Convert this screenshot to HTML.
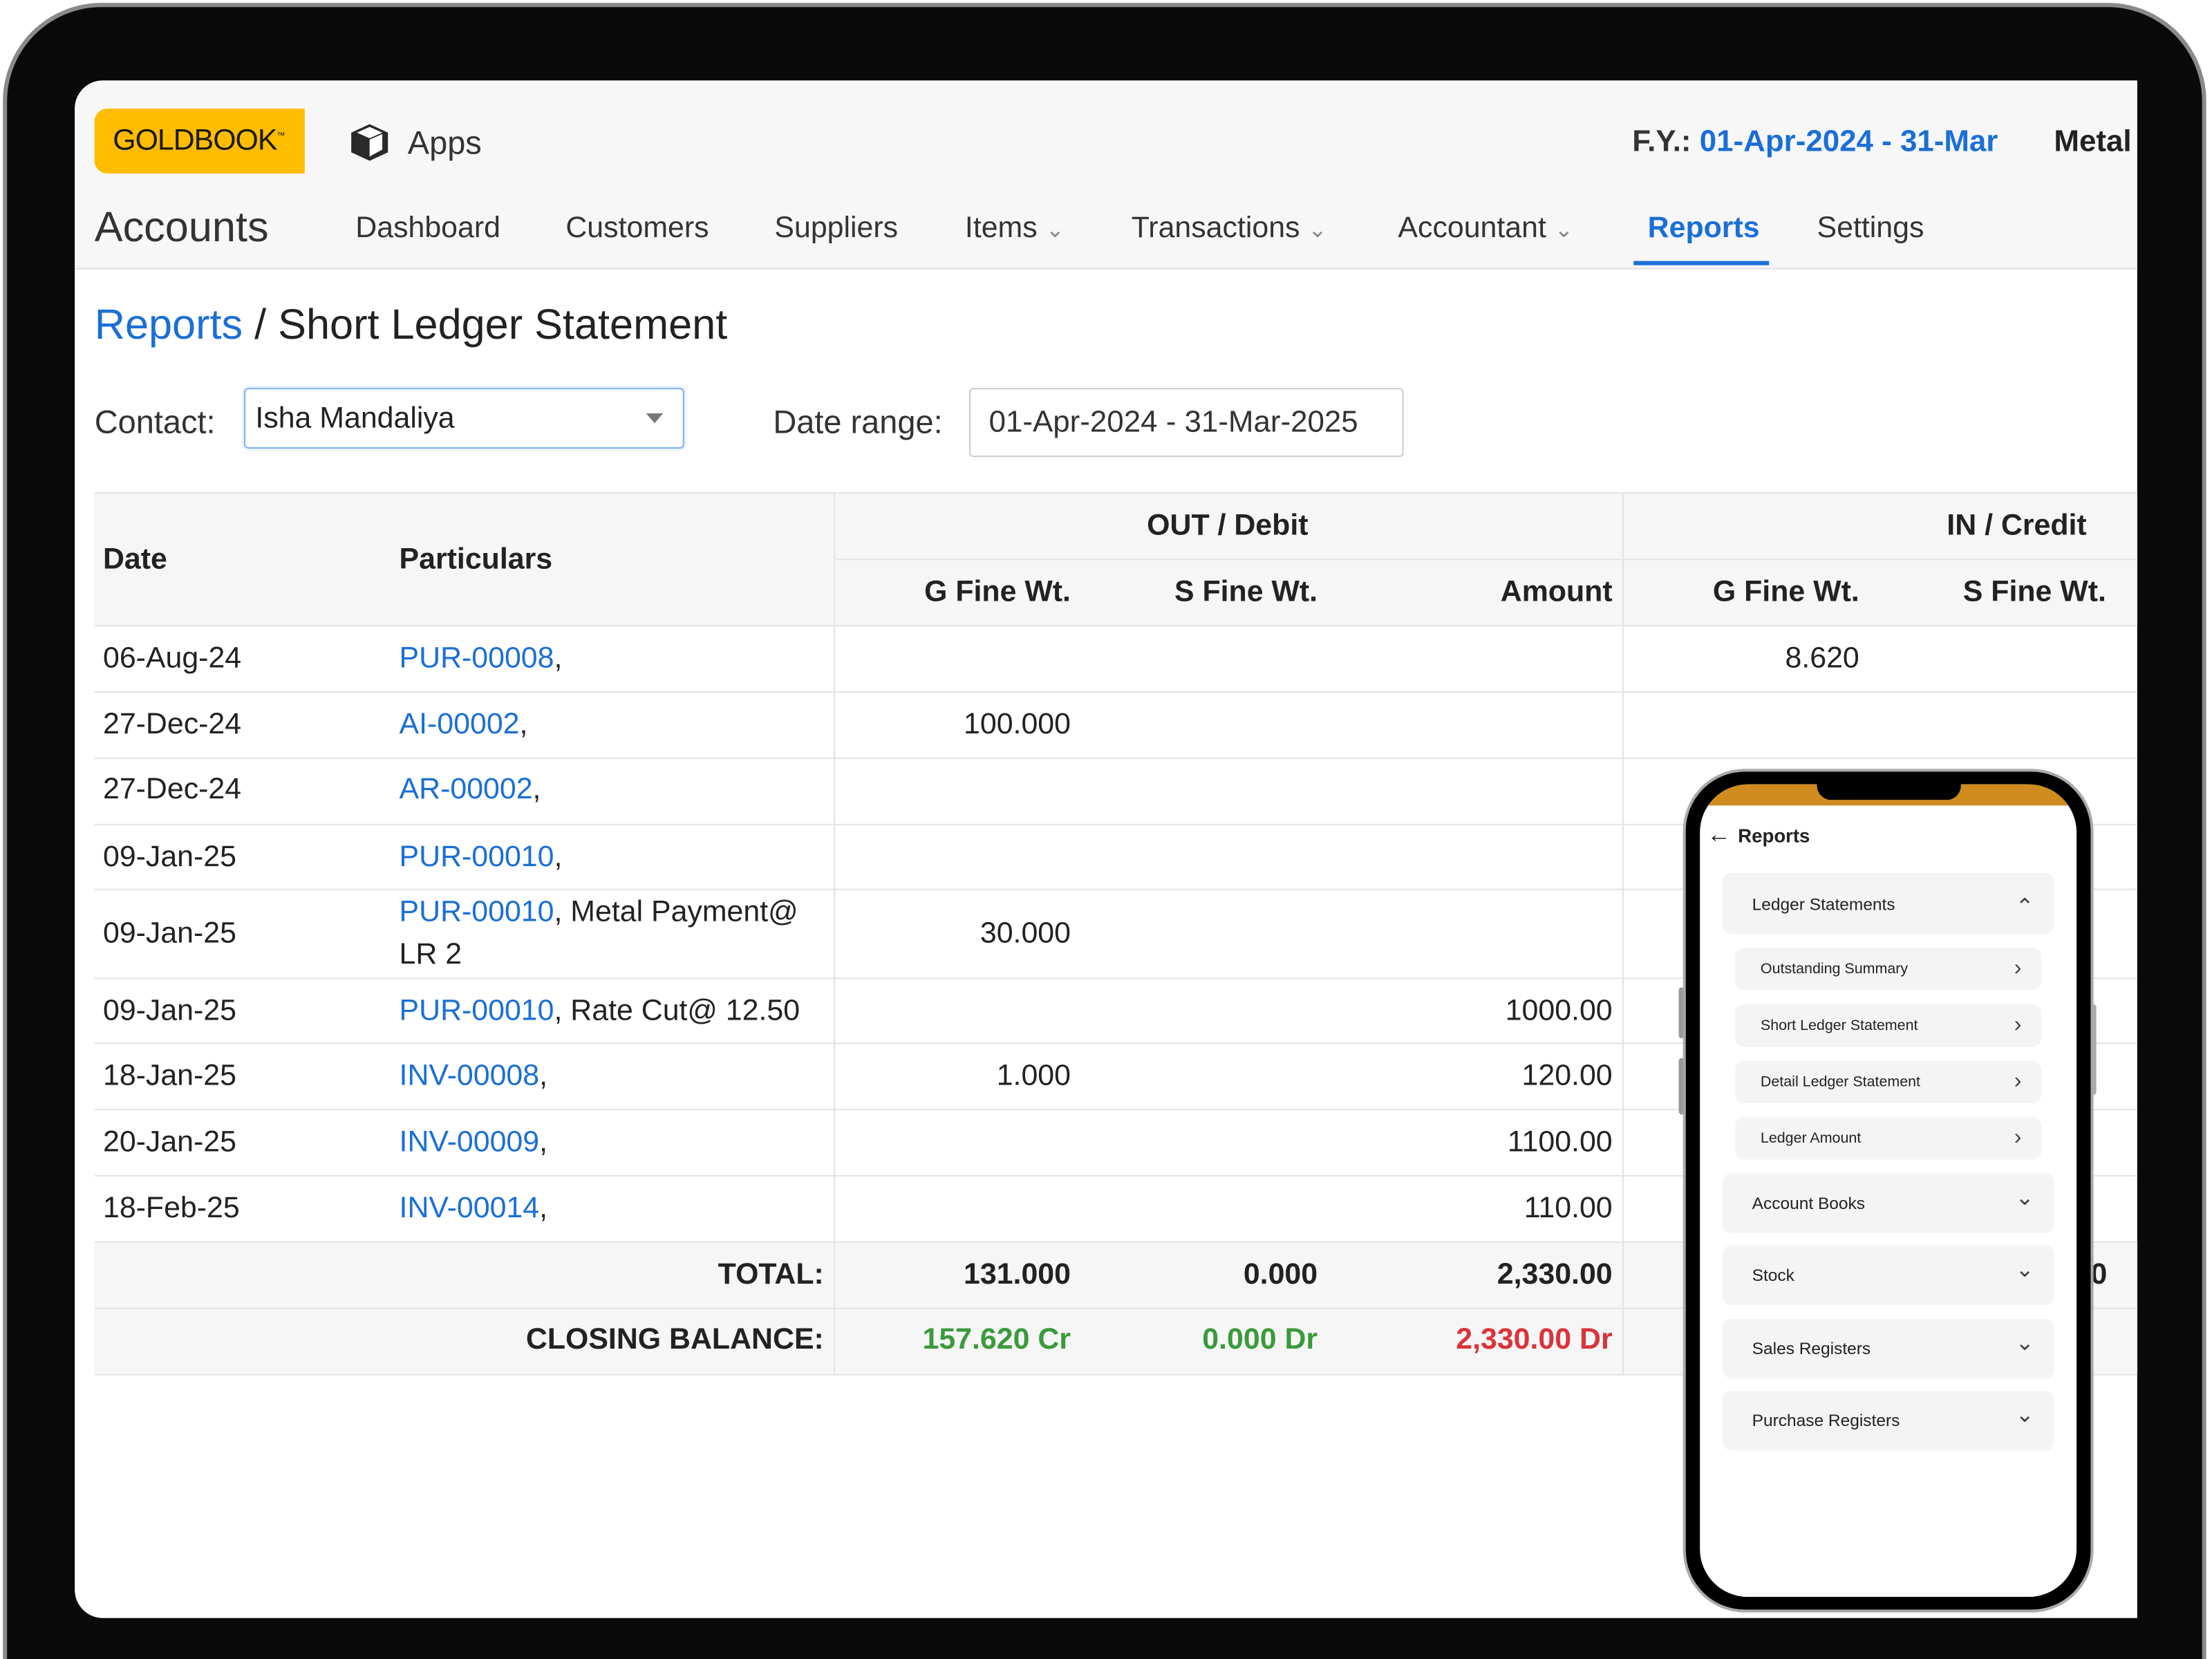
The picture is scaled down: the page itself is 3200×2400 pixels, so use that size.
<!DOCTYPE html>
<html><head><meta charset="utf-8">
<style>
html,body{margin:0;padding:0;background:#fff;}
body{width:3200px;height:2400px;overflow:hidden;position:relative;}
#w{position:absolute;left:0;top:0;width:1568px;height:1176px;overflow:hidden;transform:scale(2.0408);transform-origin:0 0;font-family:"Liberation Sans",sans-serif;color:#222;}
.a{position:absolute;white-space:nowrap;}
.frame{position:absolute;left:2px;top:2px;width:1562px;height:1174px;border-radius:70px 70px 0 0;background:#0a0a0a;border:3px solid #8a8a8a;border-bottom:none;box-sizing:border-box;}
.screen{position:absolute;left:53px;top:57px;width:1462px;height:1090px;background:#fff;border-radius:20px 0 0 20px;overflow:hidden;}
.blue{color:#1a6fd6;}
.nav{font-size:21px;color:#333;top:150px;}
.hl{position:absolute;height:1px;background:#e3e3e8;}
.vl{position:absolute;width:1px;background:#e3e3e8;}
.td{position:absolute;font-size:21px;color:#222;white-space:nowrap;}
.r{text-align:right;}
.b{font-weight:bold;}
.card{position:absolute;background:#f4f4f4;border-radius:6px;font-size:12px;color:#222;}
.card span{position:absolute;top:50%;transform:translateY(-50%);}
.chev{font-size:16px;color:#444;}
</style></head><body><div id="w">
<div class="frame"></div>
<div class="screen">
  <div style="position:absolute;left:0;top:0;width:1462px;height:133px;background:#f7f7f8;border-bottom:1px solid #e2e2e6;"></div>
</div>
<div class="a" style="left:67px;top:77px;width:149px;height:46px;background:#ffbc00;border-radius:9px 0 0 9px;"></div>
<div class="a" style="left:80px;top:88px;font-size:21px;color:#1a1a1a;letter-spacing:-0.5px;">GOLDBOOK<sup style="font-size:6px">™</sup></div>
<svg class="a" style="left:247px;top:86px" width="30" height="30" viewBox="0 0 30 30"><path d="M15 2 L28 8 L28 22 L15 28 L2 22 L2 8 Z" fill="#2a2a2a"/><path d="M15 13 L15 25 L24 20 L24 9 Z" fill="#fff"/><path d="M6 8 L15 4 L24 8 L15 12 Z" fill="#fff"/></svg>
<div class="a" style="left:289px;top:88px;font-size:23px;color:#333;">Apps</div>
<div class="a" style="left:1157px;top:88px;font-size:21.5px;color:#333;font-weight:bold;width:265px;overflow:hidden;">F.Y.: <span class="blue">01-Apr-2024 - 31-Mar</span></div>
<div class="a" style="left:1456px;top:88px;font-size:21.5px;font-weight:bold;width:59px;overflow:hidden;">Metal</div>
<div class="a" style="left:67px;top:145px;font-size:30px;color:#333;">Accounts</div>
<div class="a nav" style="left:252px">Dashboard</div>
<div class="a nav" style="left:401px">Customers</div>
<div class="a nav" style="left:549px">Suppliers</div>
<div class="a nav" style="left:684px">Items <span style="font-size:16px;color:#888">&#8964;</span></div>
<div class="a nav" style="left:802px">Transactions <span style="font-size:16px;color:#888">&#8964;</span></div>
<div class="a nav" style="left:991px">Accountant <span style="font-size:16px;color:#888">&#8964;</span></div>
<div class="a nav blue" style="left:1168px;font-weight:bold;color:#1a6fd6">Reports</div>
<div class="a" style="left:1158px;top:185px;width:96px;height:3px;background:#1a6fd6"></div>
<div class="a nav" style="left:1288px">Settings</div>
<div class="a" style="left:67px;top:214px;font-size:30px;"><span class="blue">Reports</span> / Short Ledger Statement</div>
<div class="a" style="left:67px;top:286px;font-size:23px;color:#333;">Contact:</div>
<div class="a" style="left:173px;top:275px;width:312px;height:43px;border:1.5px solid #7fb0ef;border-radius:3px;box-sizing:border-box;box-shadow:0 0 3px #bcd6f8;"></div>
<div class="a" style="left:181px;top:285px;font-size:21px;">Isha Mandaliya</div>
<div class="a" style="left:458px;top:293px;width:0;height:0;border-left:6px solid transparent;border-right:6px solid transparent;border-top:7px solid #777;"></div>
<div class="a" style="left:548px;top:286px;font-size:23px;color:#333;">Date range:</div>
<div class="a" style="left:687px;top:275px;width:308px;height:49px;border:1px solid #ccc;border-radius:3px;box-sizing:border-box;"></div>
<div class="a" style="left:701px;top:287px;font-size:21.5px;color:#333;">01-Apr-2024 - 31-Mar-2025</div>

<div class="a" style="left:67px;top:349px;width:1448px;height:94px;background:#f6f6f7;"></div>
<div class="a" style="left:67px;top:880px;width:1448px;height:94px;background:#f6f6f7;"></div>
<div class="hl" style="left:67px;top:349px;width:1448px"></div>
<div class="hl" style="left:591px;top:396px;width:924px"></div>
<div class="hl" style="left:67px;top:443px;width:1448px"></div>
<div class="hl" style="left:67px;top:490px;width:1448px"></div>
<div class="hl" style="left:67px;top:537px;width:1448px"></div>
<div class="hl" style="left:67px;top:584px;width:1448px"></div>
<div class="hl" style="left:67px;top:630px;width:1448px"></div>
<div class="hl" style="left:67px;top:693px;width:1448px"></div>
<div class="hl" style="left:67px;top:739px;width:1448px"></div>
<div class="hl" style="left:67px;top:786px;width:1448px"></div>
<div class="hl" style="left:67px;top:833px;width:1448px"></div>
<div class="hl" style="left:67px;top:880px;width:1448px"></div>
<div class="hl" style="left:67px;top:927px;width:1448px"></div>
<div class="hl" style="left:67px;top:974px;width:1448px"></div>
<div class="vl" style="left:591px;top:349px;height:625px"></div>
<div class="vl" style="left:1150px;top:349px;height:625px"></div>

<div class="td b" style="left:73px;top:385px">Date</div>
<div class="td b" style="left:283px;top:385px">Particulars</div>
<div class="td b" style="left:813px;top:361px">OUT / Debit</div>
<div class="td b" style="left:1380px;top:361px">IN / Credit</div>
<div class="td b r" style="right:809px;top:408px">G Fine Wt.</div>
<div class="td b r" style="right:634px;top:408px">S Fine Wt.</div>
<div class="td b r" style="right:425px;top:408px">Amount</div>
<div class="td b r" style="right:250px;top:408px">G Fine Wt.</div>
<div class="td b r" style="right:75px;top:408px">S Fine Wt.</div>

<div class="td" style="left:73px;top:455px">06-Aug-24</div><div class="td" style="left:283px;top:455px"><span class="blue">PUR-00008</span>,</div><div class="td r" style="right:250px;top:455px">8.620</div>
<div class="td" style="left:73px;top:502px">27-Dec-24</div><div class="td" style="left:283px;top:502px"><span class="blue">AI-00002</span>,</div><div class="td r" style="right:809px;top:502px">100.000</div>
<div class="td" style="left:73px;top:548px">27-Dec-24</div><div class="td" style="left:283px;top:548px"><span class="blue">AR-00002</span>,</div>
<div class="td" style="left:73px;top:596px">09-Jan-25</div><div class="td" style="left:283px;top:596px"><span class="blue">PUR-00010</span>,</div>
<div class="td" style="left:73px;top:650px">09-Jan-25</div><div class="td" style="left:283px;top:635px"><span class="blue">PUR-00010</span>, Metal Payment@</div><div class="td" style="left:283px;top:665px">LR 2</div><div class="td r" style="right:809px;top:650px">30.000</div>
<div class="td" style="left:73px;top:705px">09-Jan-25</div><div class="td" style="left:283px;top:705px"><span class="blue">PUR-00010</span>, Rate Cut@ 12.50</div><div class="td r" style="right:425px;top:705px">1000.00</div>
<div class="td" style="left:73px;top:751px">18-Jan-25</div><div class="td" style="left:283px;top:751px"><span class="blue">INV-00008</span>,</div><div class="td r" style="right:809px;top:751px">1.000</div><div class="td r" style="right:425px;top:751px">120.00</div>
<div class="td" style="left:73px;top:798px">20-Jan-25</div><div class="td" style="left:283px;top:798px"><span class="blue">INV-00009</span>,</div><div class="td r" style="right:425px;top:798px">1100.00</div>
<div class="td" style="left:73px;top:845px">18-Feb-25</div><div class="td" style="left:283px;top:845px"><span class="blue">INV-00014</span>,</div><div class="td r" style="right:425px;top:845px">110.00</div>
<div class="td b r" style="right:984px;top:892px">TOTAL:</div><div class="td b r" style="right:809px;top:892px">131.000</div><div class="td b r" style="right:634px;top:892px">0.000</div><div class="td b r" style="right:425px;top:892px">2,330.00</div><div class="td b" style="left:1482px;top:892px">0</div>
<div class="td b r" style="right:984px;top:938px">CLOSING BALANCE:</div><div class="td b r" style="right:809px;top:938px;color:#3a9a3a">157.620 Cr</div><div class="td b r" style="right:634px;top:938px;color:#3a9a3a">0.000 Dr</div><div class="td b r" style="right:425px;top:938px;color:#d9343a">2,330.00 Dr</div>

<!-- phone -->
<div class="a" style="left:1190px;top:700px;width:4px;height:36px;background:#999;border-radius:2px"></div>
<div class="a" style="left:1190px;top:750px;width:4px;height:40px;background:#999;border-radius:2px"></div>
<div class="a" style="left:1482px;top:712px;width:4px;height:64px;background:#aaa;border-radius:2px"></div>
<div class="a" style="left:1193px;top:545px;width:291px;height:598px;border-radius:44px;background:#000;border:2px solid #aaa;box-sizing:border-box;"></div>
<div class="a" style="left:1205px;top:556px;width:267px;height:576px;border-radius:34px;background:#fff;overflow:hidden;">
  <div style="position:absolute;left:0;top:0;width:267px;height:15px;background:#d08c1e;"></div>
</div>
<div class="a" style="left:1288px;top:552px;width:102px;height:15px;background:#000;border-radius:0 0 10px 10px;"></div>
<div class="a" style="left:1210px;top:582px;font-size:17px;">&#8592;</div>
<div class="a" style="left:1232px;top:585px;font-size:13.5px;font-weight:bold;">Reports</div>
<div class="card" style="left:1221px;top:619px;width:235px;height:43px"><span style="left:21px">Ledger Statements</span><span class="chev" style="right:14px;top:55%">&#8963;</span></div>
<div class="card" style="left:1230px;top:672px;width:217px;height:30px;font-size:10.5px"><span style="left:18px">Outstanding Summary</span><span class="chev" style="right:14px">&#8250;</span></div>
<div class="card" style="left:1230px;top:712px;width:217px;height:30px;font-size:10.5px"><span style="left:18px">Short Ledger Statement</span><span class="chev" style="right:14px">&#8250;</span></div>
<div class="card" style="left:1230px;top:752px;width:217px;height:30px;font-size:10.5px"><span style="left:18px">Detail Ledger Statement</span><span class="chev" style="right:14px">&#8250;</span></div>
<div class="card" style="left:1230px;top:792px;width:217px;height:30px;font-size:10.5px"><span style="left:18px">Ledger Amount</span><span class="chev" style="right:14px">&#8250;</span></div>
<div class="card" style="left:1221px;top:832px;width:235px;height:42px"><span style="left:21px">Account Books</span><span class="chev" style="right:14px;top:40%">&#8964;</span></div>
<div class="card" style="left:1221px;top:883px;width:235px;height:42px"><span style="left:21px">Stock</span><span class="chev" style="right:14px;top:40%">&#8964;</span></div>
<div class="card" style="left:1221px;top:935px;width:235px;height:42px"><span style="left:21px">Sales Registers</span><span class="chev" style="right:14px;top:40%">&#8964;</span></div>
<div class="card" style="left:1221px;top:986px;width:235px;height:42px"><span style="left:21px">Purchase Registers</span><span class="chev" style="right:14px;top:40%">&#8964;</span></div>
</div></body></html>
